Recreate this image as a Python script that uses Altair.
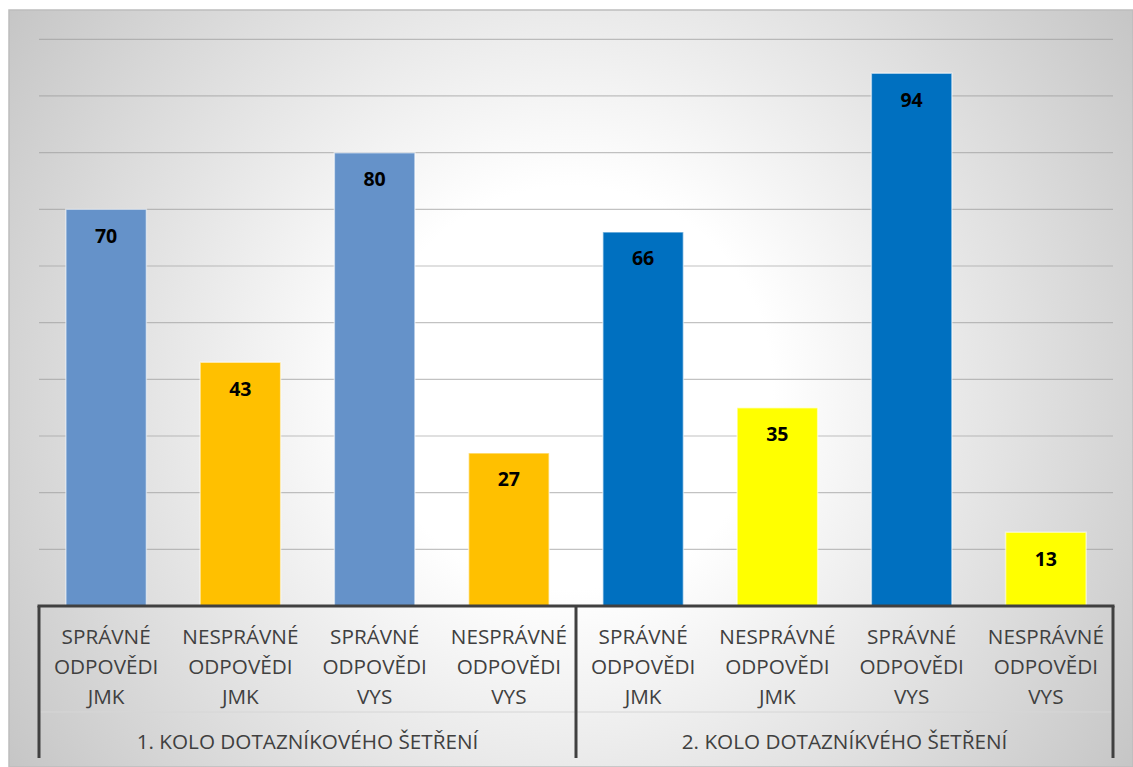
import altair as alt
import pandas as pd

# ---------------- data ----------------
keys = ["k1", "k2", "k3", "k4", "k5", "k6", "k7", "k8"]
label_text = [
    "SPRÁVNÉ\nODPOVĚDI\nJMK",
    "NESPRÁVNÉ\nODPOVĚDI\nJMK",
    "SPRÁVNÉ\nODPOVĚDI\nVYS",
    "NESPRÁVNÉ\nODPOVĚDI\nVYS",
    "SPRÁVNÉ\nODPOVĚDI\nJMK",
    "NESPRÁVNÉ\nODPOVĚDI\nJMK",
    "SPRÁVNÉ\nODPOVĚDI\nVYS",
    "NESPRÁVNÉ\nODPOVĚDI\nVYS",
]
values = [70, 43, 80, 27, 66, 35, 94, 13]
rounds = ["1. KOLO DOTAZNÍKOVÉHO ŠETŘENÍ", "2. KOLO DOTAZNÍKVÉHO ŠETŘENÍ"]
grid_values = [10, 20, 30, 40, 50, 60, 70, 80, 90, 100]
bar_colors = ["#6592C9", "#FFC000", "#6592C9", "#FFC000",
              "#0070C0", "#FFFF00", "#0070C0", "#FFFF00"]

bars_df = pd.DataFrame({"key": keys, "value": values, "label": label_text})
grid_df = pd.DataFrame({"g": grid_values})
one = pd.DataFrame({"a": [0]})

W, H = 1124, 757
X0, X1 = 30, 1104
STEP = (X1 - X0) / len(keys)
FONT = "Open Sans"
AXIS_COL = "#404040"
LABEL_SIZE = 20.7

xscale = alt.Scale(domain=keys, range=[X0, X1], paddingInner=0.4, paddingOuter=0.2)
yscale = alt.Scale(domain=[0, 100], range=[596, 29.3])

# background radial gradient (square box so the gradient is circular)
cx, cy, R = 562, 378, 720
bg = alt.Chart(one).mark_rect(
    clip=True,
    color=alt.Gradient(
        gradient="radial",
        stops=[
            alt.GradientStop(offset=0, color="#ffffff"),
            alt.GradientStop(offset=0.28, color="#ffffff"),
            alt.GradientStop(offset=0.96, color="#c4c4c4"),
            alt.GradientStop(offset=1, color="#c2c2c2"),
        ],
        x1=0.5, y1=0.5, r1=0, x2=0.5, y2=0.5, r2=0.5,
    ),
).encode(
    x=alt.value(cx - R), x2=alt.value(cx + R),
    y=alt.value(cy - R), y2=alt.value(cy + R),
)

frame = alt.Chart(one).mark_rect(
    fillOpacity=0, stroke="#bdbdbd", strokeWidth=1.5
).encode(x=alt.value(0), x2=alt.value(W), y=alt.value(0), y2=alt.value(H))

grid = alt.Chart(grid_df).mark_rule(color="#9a9a9a", strokeWidth=1.2, opacity=0.6).encode(
    y=alt.Y("g:Q", scale=yscale, axis=None),
    x=alt.value(X0), x2=alt.value(X1),
)

bars = alt.Chart(bars_df).mark_bar(
    stroke="#ffffff", strokeOpacity=0.55, strokeWidth=1.5
).encode(
    x=alt.X("key:N", scale=xscale, axis=None, sort=keys),
    y=alt.Y("value:Q", scale=yscale, axis=None),
    y2=alt.datum(0),
    color=alt.Color("key:N", scale=alt.Scale(domain=keys, range=bar_colors), legend=None),
)

bar_labels = alt.Chart(bars_df).mark_text(
    font=FONT, fontSize=19.5, fontWeight="bold", color="#000000",
    baseline="middle", dy=27.5,
).encode(
    x=alt.X("key:N", scale=xscale, axis=None, sort=keys, bandPosition=0.5),
    y=alt.Y("value:Q", scale=yscale, axis=None),
    text=alt.Text("value:Q"),
)

axis_line = alt.Chart(one).mark_rule(color=AXIS_COL, strokeWidth=3).encode(
    x=alt.value(X0 - 1.5), x2=alt.value(X1 + 1.5), y=alt.value(596), y2=alt.value(596)
)

seps = [
    alt.Chart(one).mark_rule(color=AXIS_COL, strokeWidth=3).encode(
        x=alt.value(px), y=alt.value(596), y2=alt.value(748)
    )
    for px in (X0, X0 + 4 * STEP, X1)
]

faint = alt.Chart(one).mark_rule(color="#d6d6d6", strokeWidth=1).encode(
    x=alt.value(X0), x2=alt.value(X1), y=alt.value(702), y2=alt.value(702)
)

cat_labels = alt.Chart(bars_df).mark_text(
    font=FONT, fontSize=LABEL_SIZE, color=AXIS_COL, baseline="alphabetic",
    lineBreak="\n", lineHeight=30,
).encode(
    x=alt.X("key:N", scale=xscale, axis=None, sort=keys, bandPosition=0.5),
    y=alt.value(633.5),
    text="label:N",
)

round_labels = [
    alt.Chart(one).mark_text(
        font=FONT, fontSize=LABEL_SIZE, color=AXIS_COL, baseline="alphabetic", text=txt,
    ).encode(x=alt.value(X0 + (2 + 4 * i) * STEP), y=alt.value(738.5))
    for i, txt in enumerate(rounds)
]

chart = alt.layer(
    bg, grid, bars, bar_labels, faint, axis_line, *seps,
    cat_labels, *round_labels, frame,
).properties(
    width=W, height=H,
    padding={"left": 9, "top": 10, "right": 0, "bottom": 0},
    autosize=alt.AutoSizeParams(type="none"),
    background="#ffffff",
).configure_view(stroke=None)

chart.save("out.html", embed_options={"renderer": "svg", "actions": False})
